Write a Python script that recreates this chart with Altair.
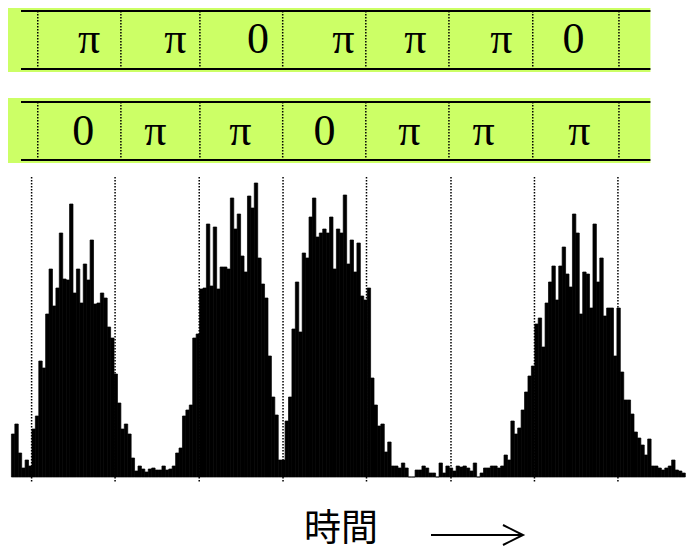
import altair as alt
import pandas as pd

# ---- data -------------------------------------------------------------
counts = [
    43, 53, 24, 9, 17, 11, 48, 61, 116, 109, 163, 208, 171, 189, 244, 198, 197,
    273, 184, 208, 174, 213, 197, 237, 173, 174, 184, 179, 150, 139, 103, 74, 48,
    53, 43, 19, 6, 11, 8, 5, 8, 9, 7, 7, 11, 7, 8, 11, 24, 29, 61, 67, 72, 139,
    143, 188, 189, 253, 191, 250, 188, 210, 210, 208,
    279, 248, 263, 221, 205, 281, 269, 294, 219, 193, 179, 121, 80, 62, 17, 17,
    56, 80, 148, 195, 145, 224, 219, 260, 279, 240, 244, 248, 244, 260, 208, 248,
    244, 282,
    213, 237, 205, 234, 181, 177, 189, 99, 72, 51, 53, 25, 35, 11, 11, 9, 14, 9,
    0, 0, 7, 7, 11, 9, 4, 4, 0, 14, 4, 11, 9, 6,
    11, 10, 11, 9, 6, 14, 0, 4, 9, 9, 11, 11, 9, 11, 22, 17, 56, 43, 49, 67, 85,
    101, 111, 153, 159, 130, 174, 195, 211, 177, 211, 230, 203, 190,
    263, 244, 163, 205, 203, 169, 253, 195, 219, 161, 169, 169, 121, 169, 105,
    77, 77, 63, 45, 39, 32, 22, 38, 11, 11, 9, 7, 9, 11, 17, 7, 6, 4,
]

# slot boundaries (time in bin units)
hist_slots = [5.9, 30.3, 54.9, 79.4, 103.8, 128.5, 152.9, 177.3]
band_slots = [7.7, 32.0, 55.1, 79.3, 103.6, 127.9, 152.4, 177.6]
band_start, band_line_start, band_end = -1.0, 2.8, 186.8

top_phases = ["π", "π", "0", "π", "π", "π", "0"]
top_phase_t = [22.7, 47.9, 72.1, 97.0, 118.1, 143.2, 164.3]
bot_phases = ["0", "π", "π", "0", "π", "π", "π"]
bot_phase_t = [21.0, 42.1, 66.9, 91.5, 116.3, 138.0, 166.0]

x_label = "時間"

# ---- chart ------------------------------------------------------------
W = 678
xs = alt.Scale(domain=[-1, 197.2], nice=False, zero=False)
GREEN = "#CCFF66"
one = pd.DataFrame({"a": [band_start], "b": [band_end], "c": [band_line_start]})


def band(phases, phase_t, h, line_top, line_bot, text_base):
    rect = alt.Chart(one).mark_rect(color=GREEN).encode(
        x=alt.X("a:Q", scale=xs, axis=None), x2="b:Q",
        y=alt.value(0), y2=alt.value(line_bot + 3),
    )
    l1 = alt.Chart(one).mark_rule(color="black", strokeWidth=2).encode(
        x=alt.X("c:Q", scale=xs, axis=None), x2="b:Q", y=alt.value(line_top))
    l2 = alt.Chart(one).mark_rule(color="black", strokeWidth=2).encode(
        x=alt.X("c:Q", scale=xs, axis=None), x2="b:Q", y=alt.value(line_bot))
    dots = alt.Chart(pd.DataFrame({"t": band_slots})).mark_rule(
        color="black", strokeWidth=1.5, strokeDash=[1.5, 1.5]
    ).encode(x=alt.X("t:Q", scale=xs, axis=None),
             y=alt.value(line_top), y2=alt.value(line_bot))
    txt = alt.Chart(pd.DataFrame({"t": phase_t, "p": phases})).mark_text(
        font="Liberation Serif", fontSize=44, baseline="alphabetic",
        align="center", color="black"
    ).encode(x=alt.X("t:Q", scale=xs, axis=None), y=alt.value(text_base),
             text="p:N")
    return alt.layer(rect, l1, l2, dots, txt).properties(width=W, height=h)


p1 = band(top_phases, top_phase_t, 78, 3, 61, 45)
p2 = band(bot_phases, bot_phase_t, 65, 4, 62, 47)

hist_df = pd.DataFrame({
    "t0": list(range(len(counts))),
    "t1": [i + 1 for i in range(len(counts))],
    "count": counts,
})
bars = alt.Chart(hist_df).mark_rect(
    color="black", stroke="black", strokeWidth=0.7
).encode(
    x=alt.X("t0:Q", scale=xs, axis=None), x2="t1:Q",
    y=alt.Y("count:Q", scale=alt.Scale(domain=[-6, 302], nice=False, zero=False),
            axis=None),
    y2=alt.datum(0),
)
hdots = alt.Chart(pd.DataFrame({"t": hist_slots})).mark_rule(
    color="black", strokeWidth=1.5, strokeDash=[1.5, 1.5]
).encode(x=alt.X("t:Q", scale=xs, axis=None), y=alt.value(2), y2=alt.value(308))

title = alt.Chart(pd.DataFrame({"s": [x_label]})).mark_text(
    font="Noto Sans CJK JP", fontSize=37, baseline="alphabetic", align="center",
    color="black"
).encode(x=alt.value(333), y=alt.value(366), text="s:N")
arrow_line = alt.Chart(one).mark_rule(color="black", strokeWidth=2).encode(
    x=alt.value(423), x2=alt.value(513), y=alt.value(360))
arrow_head = alt.Chart(one).mark_point(
    shape="M-1,-0.5L0,0L-1,0.5", size=1600, filled=False, strokeWidth=2,
    color="black", opacity=1
).encode(x=alt.value(515), y=alt.value(360))

p3 = alt.layer(bars, hdots, title, arrow_line, arrow_head).properties(
    width=W, height=308)

chart = alt.vconcat(p1, p2, p3, spacing=12).properties(
    padding={"left": 0, "top": 0, "right": 0, "bottom": 3},
    background="white",
).configure_view(strokeWidth=0)

chart.save("out.html", embed_options={"renderer": "svg", "actions": False})
